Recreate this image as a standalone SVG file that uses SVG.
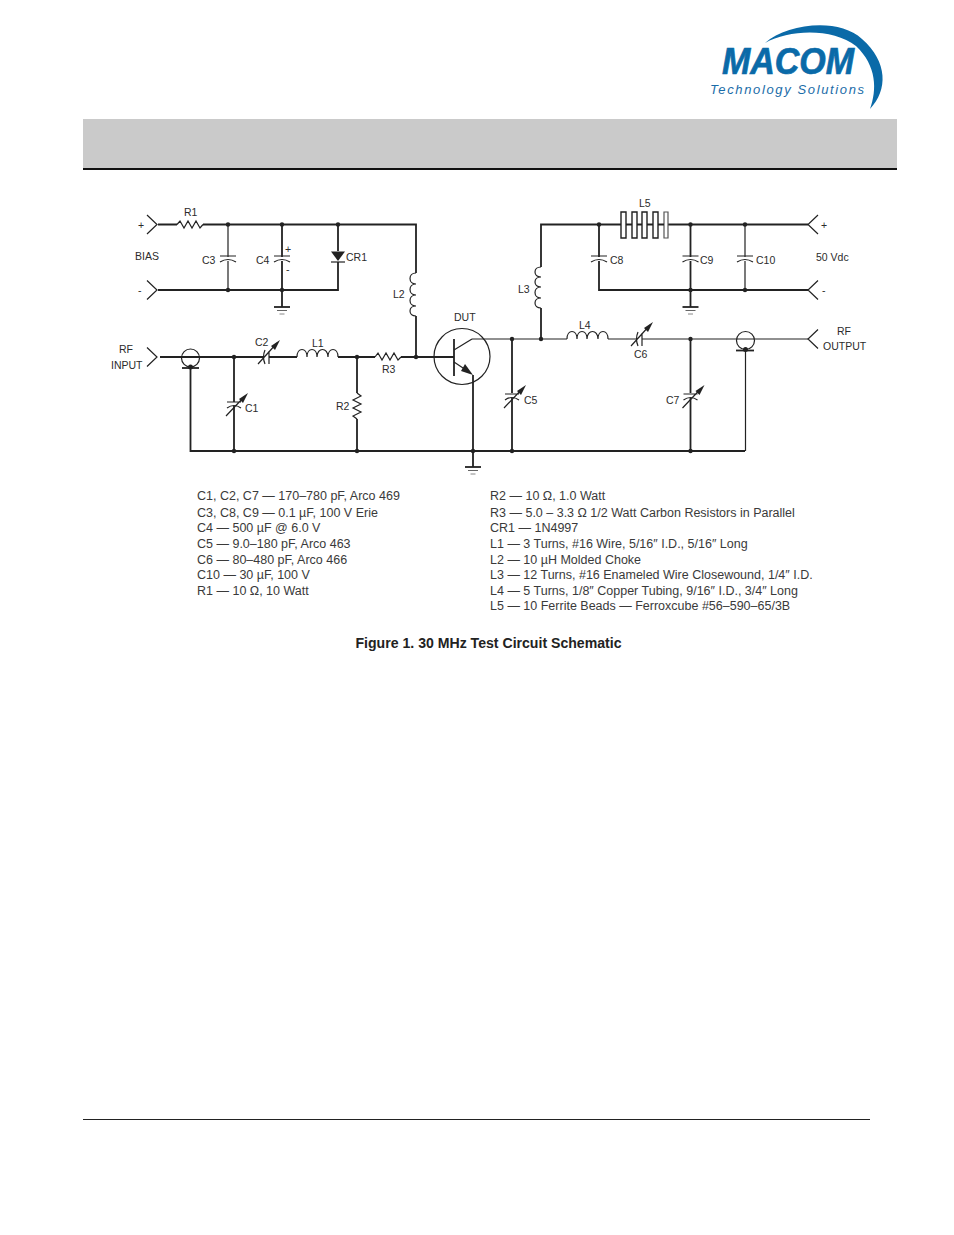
<svg xmlns="http://www.w3.org/2000/svg" width="954" height="1235" viewBox="0 0 954 1235">
<style>
text{font-family:"Liberation Sans",Arial,sans-serif;fill:#2b2b2b}
.lb{font-size:10.5px}
.lg{font-size:12.5px;fill:#3a3a3a}
.w{fill:none;stroke:#222;stroke-width:1.8}
.t{fill:none;stroke:#222;stroke-width:1.2}
.d{fill:#222;stroke:none}
</style>
<defs>
<g id="gnd"><path class="w" d="M-8,0H8"/><path d="M-5,3.5H5" fill="none" stroke="#666" stroke-width="1"/><path d="M-2.5,7H2.5" fill="none" stroke="#888" stroke-width="1"/></g>
<g id="capf"><path class="t" d="M-8,-2H8M-8,4Q0,-1 8,4"/></g>
<g id="capv"><path class="t" d="M-7,-3H7M-7,3Q0,-2 7,3M-8,11L10,-8"/><path class="d" d="M14,-12L5,-6L9,-2Z"/></g>
<g id="caph"><path class="t" d="M2,-6V7M-2,-7Q-5,0 -2,7M-9,7L10,-14"/><path class="d" d="M13,-17L4,-11L8,-7Z"/></g>
<circle id="j" r="2.2" class="d"/>
<path id="chl" class="t" d="M0,-9.5L10,0L0,9.5"/>
<path id="chr" class="t" d="M0,-9.5L-10,0L0,9.5"/>
</defs>
<g id="header">
<rect x="83" y="119" width="814" height="49" fill="#cacaca"/>
<rect x="83" y="168" width="814" height="2" fill="#111"/>
<rect x="83" y="1119" width="787" height="1" fill="#222"/>
</g>
<g id="logo">
<path fill="#0a6aa8" d="M765,43C787,24 838,17 862,39C888,62 888,90 870,109C877,90 877,66 856,46C833,28 790,29 765,43Z"/>
<text x="722" y="74" font-size="36" font-weight="700" font-style="italic" textLength="132" lengthAdjust="spacingAndGlyphs" stroke="#0a6aa8" stroke-width="0.7" style="fill:#0a6aa8">MACOM</text>
<text x="710" y="94" font-size="13" font-style="italic" textLength="154" style="fill:#1a6ca8">Technology Solutions</text>
</g>
<g id="connectors">
<path class="w" d="M158,224.5H177M203,224.5H416V273M416,316V357M158,290H338V262M338,251V224.5"/>
<path class="t" d="M228,224.5V257M228,261V290"/>
<path class="w" d="M282,224.5V257M282,261V307"/>
<path class="w" d="M541,308V339M541,267V224.5H621M668,224.5H808M599,224.5V257M599,261V290H808M690.5,224.5V257M690.5,261V307"/>
<path class="t" d="M745,224.5V257M745,261V290"/>
<path class="w" d="M160,357H264M269,357H297M338,357H375M401,357H454M234,357V402M234,406V451M357,357V393M357,419V451M190.5,368V451H473M473,375V467M473,451H745"/>
<path class="t" d="M472,339H567M608,339H637M642,339H808M745.5,350V451"/>
<path class="w" d="M512,339V393M512,398V451M690.5,339V393M690.5,398V451"/>
<g id="junctions">
<use href="#j" x="228" y="224.5"/><use href="#j" x="282" y="224.5"/><use href="#j" x="338" y="224.5"/>
<use href="#j" x="228" y="290"/><use href="#j" x="282" y="290"/>
<use href="#j" x="599" y="224.5"/><use href="#j" x="690.5" y="224.5"/><use href="#j" x="745" y="224.5"/>
<use href="#j" x="690.5" y="290"/><use href="#j" x="745" y="290"/>
<use href="#j" x="234" y="357"/><use href="#j" x="357" y="357"/><use href="#j" x="416" y="357"/>
<use href="#j" x="512" y="339"/><use href="#j" x="541" y="339"/><use href="#j" x="690.5" y="339"/>
<use href="#j" x="234" y="451"/><use href="#j" x="357" y="451"/><use href="#j" x="473" y="451"/><use href="#j" x="512" y="451"/><use href="#j" x="690.5" y="451"/>
</g>
</g>
<g id="J1"><use href="#chl" x="147" y="224.5"/><text class="lb" x="138" y="229">+</text></g>
<g id="J2"><use href="#chl" x="147" y="290"/><text class="lb" x="138" y="294">-</text></g>
<g id="bias-label"><text class="lb" x="135" y="260">BIAS</text></g>
<g id="R1"><path class="t" d="M177,224.5L180,221L184,228L188,221L192,228L196,221L200,228L203,224.5"/><text class="lb" x="184" y="216">R1</text></g>
<g id="C3"><use href="#capf" x="228" y="258"/><text class="lb" x="202" y="264">C3</text></g>
<g id="C4"><use href="#capf" x="282" y="258"/><text class="lb" x="256" y="264">C4</text><text class="lb" x="285" y="253">+</text><text class="lb" x="286" y="273">-</text></g>
<g id="CR1"><path class="d" d="M331,251.5H345L338,261Z"/><path class="t" d="M331,262H345"/><text class="lb" x="346" y="261">CR1</text></g>
<g id="G1"><use href="#gnd" x="282" y="307"/></g>
<g id="L2"><path class="t" d="M416,273C408,273 408,284 416,284C408,284 408,295 416,295C408,295 408,306 416,306C408,306 408,316 416,316"/><text class="lb" x="393" y="298">L2</text></g>
<g id="L3"><path class="t" d="M541,267C533,267 533,277 541,277C533,277 533,287 541,287C533,287 533,298 541,298C533,298 533,308 541,308"/><text class="lb" x="518" y="293">L3</text></g>
<g id="L5"><path fill="#fff" stroke="#222" stroke-width="1.4" d="M621,212h5v26h-5zM632,212h5v26h-5zM642,212h5v26h-5zM653,212h5v26h-5z"/><path fill="#fff" stroke="#555" stroke-width="1.2" d="M664,212h4v26h-4z"/><path class="w" d="M626,224.5h6M637,224.5h5M647,224.5h6M658,224.5h6"/><text class="lb" x="639" y="207">L5</text></g>
<g id="C8"><use href="#capf" x="599" y="258"/><text class="lb" x="610" y="264">C8</text></g>
<g id="C9"><use href="#capf" x="690.5" y="258"/><text class="lb" x="700" y="264">C9</text></g>
<g id="C10"><use href="#capf" x="745" y="258"/><text class="lb" x="756" y="264">C10</text></g>
<g id="G2"><use href="#gnd" x="690.5" y="307"/></g>
<g id="J3"><use href="#chr" x="818" y="224.5"/><text class="lb" x="821" y="229">+</text></g>
<g id="J4"><use href="#chr" x="818" y="290"/><text class="lb" x="822" y="294">-</text></g>
<g id="vdc-label"><text class="lb" x="816" y="261">50 Vdc</text></g>
<g id="RFIN"><use href="#chl" x="147" y="357"/><text class="lb" x="119" y="353">RF</text><text class="lb" x="111" y="369">INPUT</text></g>
<g id="COAX1"><circle class="t" cx="190.5" cy="358" r="9"/><path class="w" d="M182,368H199"/><circle class="d" cx="190.5" cy="367" r="2.5"/></g>
<g id="C2"><use href="#caph" x="267" y="357"/><text class="lb" x="255" y="346">C2</text></g>
<g id="L1"><path class="t" d="M297,357C297,347 307,347 307,357C307,347 317,347 317,357C317,347 328,347 328,357C328,347 338,347 338,357"/><text class="lb" x="312" y="347">L1</text></g>
<g id="R3"><path class="t" d="M375,357L378,353L382,360L386,353L390,360L394,353L398,360L401,357"/><text class="lb" x="382" y="373">R3</text></g>
<g id="C1"><use href="#capv" x="234" y="405"/><text class="lb" x="245" y="412">C1</text></g>
<g id="R2"><path class="t" d="M357,393L361,396L353,400L361,404L353,408L361,412L353,416L357,419"/><text class="lb" x="336" y="410">R2</text></g>
<g id="DUT"><circle class="t" cx="462" cy="356.5" r="28"/><path class="w" d="M454,339V376"/><path class="t" d="M454,350L472,339"/><path class="t" d="M454,362L466,370"/><path class="d" d="M473,375L461,371L465,364Z"/><text class="lb" x="454" y="321">DUT</text></g>
<g id="G3"><use href="#gnd" x="473" y="467"/></g>
<g id="L4"><path class="t" d="M567,339C567,329 577,329 577,339C577,329 587,329 587,339C587,329 598,329 598,339C598,329 608,329 608,339"/><text class="lb" x="579" y="329">L4</text></g>
<g id="C6"><use href="#caph" x="640" y="339"/><text class="lb" x="634" y="358">C6</text></g>
<g id="C5"><use href="#capv" x="512" y="397"/><text class="lb" x="524" y="404">C5</text></g>
<g id="C7"><use href="#capv" x="690.5" y="397"/><text class="lb" x="666" y="404">C7</text></g>
<g id="COAX2"><circle class="t" cx="745.5" cy="340.5" r="9"/><path class="w" d="M736,350.5H754"/><circle class="d" cx="745.5" cy="349.5" r="2.5"/></g>
<g id="RFOUT"><use href="#chr" x="818" y="339"/><text class="lb" x="837" y="335">RF</text><text class="lb" x="823" y="350">OUTPUT</text></g>
<g id="legend-left">
<text class="lg" x="197" y="500">C1, C2, C7 — 170–780 pF, Arco 469</text>
<text class="lg" x="197" y="516.5">C3, C8, C9 — 0.1 µF, 100 V Erie</text>
<text class="lg" x="197" y="532">C4 — 500 µF @ 6.0 V</text>
<text class="lg" x="197" y="548">C5 — 9.0–180 pF, Arco 463</text>
<text class="lg" x="197" y="563.500">C6 — 80–480 pF, Arco 466</text>
<text class="lg" x="197" y="579">C10 — 30 µF, 100 V</text>
<text class="lg" x="197" y="595">R1 — 10 Ω, 10 Watt</text>
</g>
<g id="legend-right">
<text class="lg" x="490" y="500">R2 — 10 Ω, 1.0 Watt</text>
<text class="lg" x="490" y="516.5">R3 — 5.0 – 3.3 Ω 1/2 Watt Carbon Resistors in Parallel</text>
<text class="lg" x="490" y="532">CR1 — 1N4997</text>
<text class="lg" x="490" y="548">L1 — 3 Turns, #16 Wire, 5/16″ I.D., 5/16″ Long</text>
<text class="lg" x="490" y="563.500">L2 — 10 µH Molded Choke</text>
<text class="lg" x="490" y="579">L3 — 12 Turns, #16 Enameled Wire Closewound, 1/4″ I.D.</text>
<text class="lg" x="490" y="595">L4 — 5 Turns, 1/8″ Copper Tubing, 9/16″ I.D., 3/4″ Long</text>
<text class="lg" x="490" y="610">L5 — 10 Ferrite Beads — Ferroxcube #56–590–65/3B</text>
</g>
<g id="caption"><text x="488.5" y="648" font-size="14.1" font-weight="700" text-anchor="middle" style="fill:#222">Figure 1. 30 MHz Test Circuit Schematic</text></g>
</svg>
